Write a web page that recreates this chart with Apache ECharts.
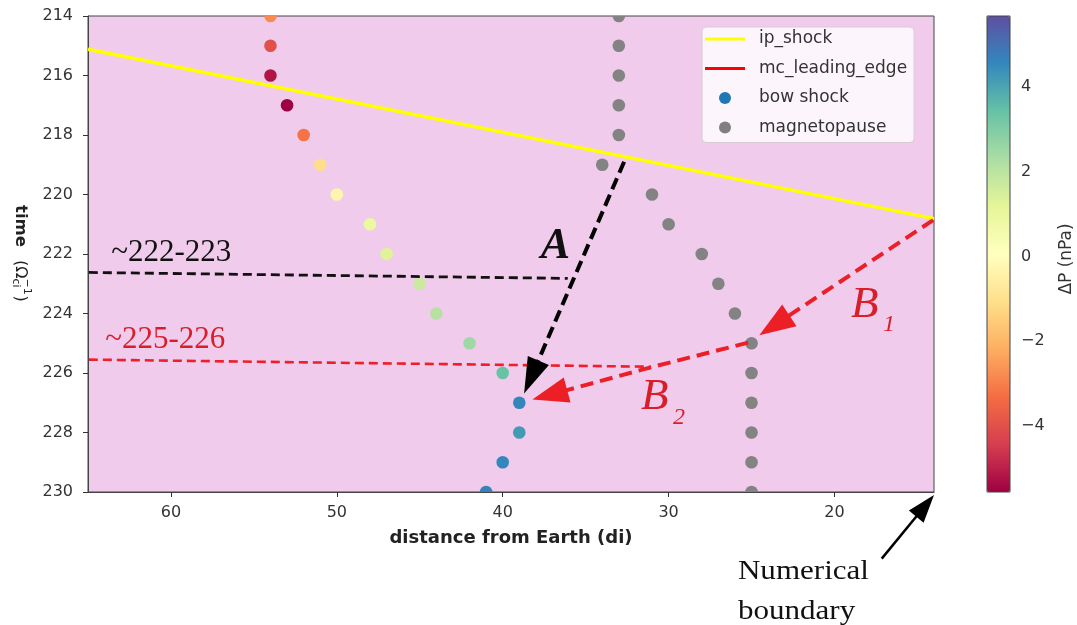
<!DOCTYPE html>
<html><head><meta charset="utf-8">
<script src="https://cdn.jsdelivr.net/npm/echarts@6/dist/echarts.min.js"></script>
<style>html,body{margin:0;padding:0;background:#fff}#c{width:1077px;height:625px}</style>
</head><body><div id="c"></div>
<script>
// ---- data ----
const timeValues = [214,215,216,217,218,219,220,221,222,223,224,225,226,227,228,229,230];
const bowShockDistance = [54,54,54,53,52,51,50,48,47,45,44,42,40,39,39,40,41];
const bowShockDeltaP = [-2.8,-4.0,-5.2,-5.56,-3.2,-1.1,-0.3,0.9,1.3,1.7,2.1,2.5,3.4,4.6,4.2,4.6,4.7];
const magnetopauseDistance = [33,33,33,33,33,34,31,30,28,27,26,25,25,25,25,25,25];
const ipShockDistance = [65,14];
const ipShockTime = [215.12,220.81];
const mcLeadingEdge = [];
const xTicks = [60,50,40,30,20];
const colorbarTicks = [-4,-2,0,2,4];
const deltaPRange = [-5.56,5.68];
const spectral = ['#9e0142','#d53e4f','#f46d43','#fdae61','#fee08b','#ffffbf','#e6f598','#abdda4','#66c2a5','#3288bd','#5e4fa2'];

// annotations in data coordinates (distance, time)
const line222 = [[64.95,222.62],[36.08,222.82]];
const line225 = [[64.95,225.55],[31.07,225.79]];
const arrowA = [[32.68,218.90],[38.71,226.69]];
const arrowB1 = [[14.05,220.86],[24.53,224.73]];
const arrowB2 = [[25.21,224.98],[31.07,225.81],[38.21,226.89]];
const arrowBoundary = [[17.15,232.24],[14.0,230.1]];

const bowData = timeValues.map((t,i)=>[bowShockDistance[i], t, bowShockDeltaP[i]]);
const mpData = timeValues.map((t,i)=>[magnetopauseDistance[i], t]);
const ipData = ipShockDistance.map((d,i)=>[d, ipShockTime[i]]);

const FONT = 'DejaVu Sans';
const minus = v => String(v).replace('-', '\u2212');

function dot(params, api) {
  const c = api.coord([api.value(0), api.value(1)]);
  return {type:'circle', shape:{cx:c[0], cy:c[1], r:6.3}, style:{fill:api.visual('color')}};
}

const option = {
  animation: false,
  grid: [
    {left:88, right:143, top:16, bottom:133, show:true, backgroundColor:'#f0cbeb', borderColor:'#444', borderWidth:1},
    {left:987, width:23, top:16, bottom:133, show:true, backgroundColor:'transparent', borderColor:'#444', borderWidth:1, z:10}
  ],
  xAxis: [
    {gridIndex:0, type:'value', min:14, max:65, inverse:true,
     axisLine:{show:true, onZero:false, lineStyle:{color:'#444'}},
     axisTick:{show:true, length:5, customValues:xTicks, lineStyle:{color:'#333'}},
     axisLabel:{customValues:xTicks, margin:13, fontSize:16, color:'#333', fontFamily:FONT},
     splitLine:{show:false},
     name:'distance from Earth (di)', nameLocation:'middle', nameGap:37,
     nameTextStyle:{fontSize:18, fontWeight:'bold', color:'#222', fontFamily:FONT}},
    {gridIndex:1, type:'value', min:0, max:1, show:false}
  ],
  yAxis: [
    {gridIndex:0, type:'value', min:214, max:230, interval:2, inverse:true,
     axisLine:{show:true, onZero:false, lineStyle:{color:'#444'}},
     axisTick:{show:true, length:5, lineStyle:{color:'#333'}},
     axisLabel:{margin:15, fontSize:16, color:'#333', fontFamily:FONT},
     splitLine:{show:false}},
    {gridIndex:1, type:'value', min:deltaPRange[0], max:deltaPRange[1], position:'right',
     axisLine:{show:false},
     axisTick:{show:true, length:5, customValues:colorbarTicks, lineStyle:{color:'#333'}},
     axisLabel:{customValues:colorbarTicks, formatter:minus, margin:11, fontSize:16, color:'#333', fontFamily:FONT},
     splitLine:{show:false}}
  ],
  visualMap: {
    type:'continuous', seriesIndex:2, dimension:2, min:deltaPRange[0], max:deltaPRange[1],
    inRange:{color:spectral}, calculable:false, hoverLink:false,
    left:987, top:16, itemWidth:23, itemHeight:476, padding:0, orient:'vertical'
  },
  legend: {
    orient:'vertical', left:702, top:27, padding:[2,7,5,3],
    itemWidth:40, itemHeight:12, itemGap:9.5,
    backgroundColor:'rgba(255,255,255,0.8)', borderColor:'#d9cbd6', borderWidth:1, borderRadius:4,
    textStyle:{fontSize:17, fontFamily:FONT, color:'#333', padding:[0,0,0,9], lineHeight:20},
    data:[
      {name:'ip_shock', icon:'path://M0,0L40,0L40,3L0,3Z', itemStyle:{color:'#ffff00'}},
      {name:'mc_leading_edge', icon:'path://M0,0L40,0L40,3L0,3Z', itemStyle:{color:'#ff0000'}},
      {name:'bow shock', icon:'circle', itemStyle:{color:'#1f77b4'}},
      {name:'magnetopause', icon:'circle', itemStyle:{color:'#808080'}}
    ]
  },
  series: [
    {name:'ip_shock', type:'line', xAxisIndex:0, yAxisIndex:0, data:ipData, symbol:'none', color:'#ffff00',
     lineStyle:{color:'#ffff00', width:3.5}, clip:true, z:3},
    {name:'mc_leading_edge', type:'line', xAxisIndex:0, yAxisIndex:0, data:mcLeadingEdge, symbol:'none', color:'#ff0000',
     lineStyle:{color:'#ff0000', width:3}},
    {name:'bow shock', type:'custom', xAxisIndex:0, yAxisIndex:0, data:bowData, renderItem:dot,
     encode:{x:0, y:1}, color:'#1f77b4', clip:true, z:2},
    {name:'magnetopause', type:'custom', xAxisIndex:0, yAxisIndex:0, data:mpData, renderItem:dot,
     encode:{x:0, y:1}, color:'#838383', itemStyle:{color:'#838383'}, clip:true, z:2}
  ]
};

const chart = echarts.init(document.getElementById('c'), null, {renderer:'canvas'});
chart.setOption(option);

const P = p => chart.convertToPixel({gridIndex:0}, p);
function dashed(points, color, width, dash) {
  return {type:'polyline', silent:true, z:50, shape:{points:points.map(P)},
          style:{stroke:color, lineWidth:width, lineDash:dash, fill:null}};
}
function arrow(points, color, width, dash, L, W) {
  const px = points.map(P);
  const tip = px[px.length-1], prev = px[px.length-2];
  const dx = tip[0]-prev[0], dy = tip[1]-prev[1], len = Math.hypot(dx,dy);
  const ux = dx/len, uy = dy/len;
  const base = [tip[0]-ux*L, tip[1]-uy*L];
  const lineEnd = [base[0]+ux*4, base[1]+uy*4];
  const line = px.slice(0,-1).concat([lineEnd]);
  const head = [tip, [base[0]-uy*W, base[1]+ux*W], [base[0]+uy*W, base[1]-ux*W]];
  return [
    {type:'polyline', silent:true, z:50, shape:{points:line}, style:{stroke:color, lineWidth:width, lineDash:dash, fill:null}},
    {type:'polygon', silent:true, z:51, shape:{points:head}, style:{fill:color}}
  ];
}
function label(pt, text, opts) {
  const p = P(pt);
  return {type:'text', silent:true, z:52, x:p[0], y:p[1], scaleX:opts.scaleX||1,
    style:{text:text, fontSize:opts.size, fontFamily:'Liberation Serif', fontStyle:opts.style||'normal',
           fontWeight:opts.weight||'normal', fill:opts.color||'#111', align:'left', verticalAlign:'middle'}};
}
const RED = '#ec1f27', REDTXT = '#d81f29';
const graphics = [].concat(
  [dashed(line222, '#111', 2.8, [9,5]), dashed(line225, '#f01e28', 2.6, [9,5])],
  arrow(arrowA, '#000', 4, [12,6], 36, 11.5),
  arrow(arrowB1, RED, 4, [13,7], 36, 13),
  arrow(arrowB2, RED, 4, [13,7], 36, 13),
  arrow(arrowBoundary, '#000', 2.5, null, 28, 9.5),
  [
    label([63.6,221.97], '~222-223', {size:31}),
    label([63.96,224.9], '~225-226', {size:31, color:REDTXT}),
    label([37.71,221.74], 'A', {size:44, style:'italic', weight:'bold'}),
    label([19.0,223.72], 'B', {size:45, style:'italic', color:REDTXT}),
    label([17.07,224.36], '1', {size:24, style:'italic', color:REDTXT}),
    label([31.67,226.80], 'B', {size:45, style:'italic', color:REDTXT}),
    label([29.74,227.49], '2', {size:24, style:'italic', color:REDTXT}),
    label([25.82,232.68], 'Numerical', {size:27, scaleX:1.15}),
    label([25.82,234.02], 'boundary', {size:27, scaleX:1.15})
  ],
  [
    {type:'group', x:20.5, y:205, rotation:-Math.PI/2, silent:true, children:[
      {type:'text', x:0, y:0, style:{text:'time', fontSize:16.5, fontWeight:'bold', fontFamily:FONT, fill:'#222', align:'left', verticalAlign:'middle'}},
      {type:'text', x:55, y:0, style:{text:'(\u03A9', fontSize:16, fontFamily:FONT, fill:'#222', align:'left', verticalAlign:'middle'}},
      {type:'text', x:73.5, y:5, style:{text:'ci', fontSize:11, fontFamily:FONT, fill:'#222', align:'left', verticalAlign:'middle'}},
      {type:'text', x:73.5, y:-6, style:{text:'\u22121', fontSize:11, fontFamily:FONT, fill:'#222', align:'left', verticalAlign:'middle'}},
      {type:'text', x:90.5, y:0, style:{text:')', fontSize:16, fontFamily:FONT, fill:'#222', align:'left', verticalAlign:'middle'}}
    ]},
    {type:'text', x:1067, y:259, rotation:Math.PI/2, silent:true,
     style:{text:'\u0394P (nPa)', fontSize:17, fontFamily:FONT, fill:'#333', align:'center', verticalAlign:'middle'}}
  ]
);
chart.setOption({graphic: graphics});
</script>
</body></html>
